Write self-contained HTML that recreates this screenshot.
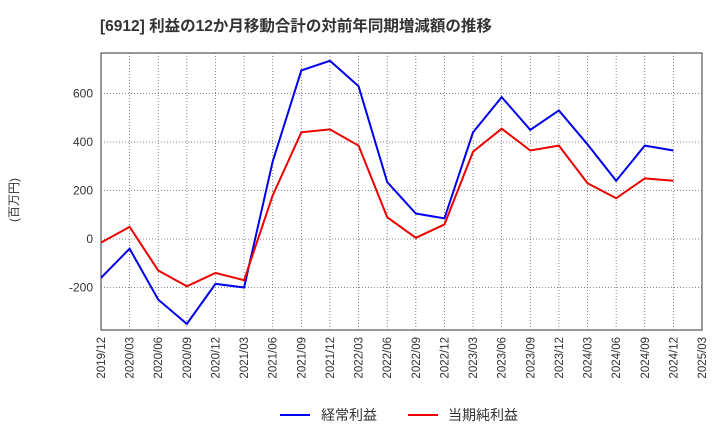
<!DOCTYPE html>
<html><head><meta charset="utf-8"><style>
body{margin:0;background:#fff;font-family:"Liberation Sans","Noto Sans CJK JP",sans-serif;}
</style></head><body>
<svg width="720" height="440" xmlns="http://www.w3.org/2000/svg" font-family="Liberation Sans, Noto Sans CJK JP, sans-serif">
<text x="100" y="31" font-size="15.5" font-weight="bold" fill="#333">[6912]  利益の12か月移動合計の対前年同期増減額の推移</text>
<text x="18" y="200" font-size="12" fill="#333" transform="rotate(-90 18 200)" text-anchor="middle">(百万円)</text>
<rect x="101" y="53" width="601" height="277" fill="none" stroke="#333" stroke-width="1"/>
<g id="grid"></g>
<g id="yt"></g>
<g id="xt"></g>
<g id="series"></g>
<g>
<line x1="280" y1="415" x2="310" y2="415" stroke="#0000ee" stroke-width="2"/>
<text x="321" y="420" font-size="14" fill="#333">経常利益</text>
<line x1="408" y1="415" x2="438" y2="415" stroke="#ee0000" stroke-width="2"/>
<text x="448" y="420" font-size="14" fill="#333">当期純利益</text>
</g>
</svg>
<script>
const categories=["2019/12","2020/03","2020/06","2020/09","2020/12","2021/03","2021/06","2021/09","2021/12","2022/03","2022/06","2022/09","2022/12","2023/03","2023/06","2023/09","2023/12","2024/03","2024/06","2024/09","2024/12","2025/03"];
const ordinary=[-160,-40,-250,-350,-185,-200,320,695,735,630,235,105,85,440,585,450,530,390,240,385,365];
const net=[-15,50,-130,-195,-140,-170,180,440,452,385,90,5,60,360,455,365,385,230,168,250,240];
const yTicks=[-200,0,200,400,600];
const ns="http://www.w3.org/2000/svg";
const x0=101,x1=702,yTop=53,yBot=330;
const xs=i=>x0+i*(x1-x0)/(categories.length-1);
const ys=v=>239-v*(48.5/200);
function mk(t,a,p){const e=document.createElementNS(ns,t);for(const k in a)e.setAttribute(k,a[k]);p.appendChild(e);return e;}
const g=document.getElementById('grid'),yt=document.getElementById('yt'),xt=document.getElementById('xt'),se=document.getElementById('series');
categories.forEach((c,i)=>{
 if(i>0&&i<categories.length-1){const l=mk('line',{x1:xs(i),x2:xs(i),y1:yTop,y2:yBot,stroke:'#666','stroke-dasharray':'1,2','stroke-width':0.8},g);
 }
 const t=mk('text',{x:0,y:0,'font-size':11.5,fill:'#333','text-anchor':'end',transform:`translate(${xs(i)+4},${yBot+7}) rotate(-90)`},xt);
 t.textContent=c;
});
yTicks.forEach(v=>{
 const l=mk('line',{x1:x0,x2:x1,y1:ys(v),y2:ys(v),stroke:'#666','stroke-dasharray':'1,2','stroke-width':0.8},g);
 
 const t=mk('text',{x:x0-8,y:ys(v)+4,'font-size':12,fill:'#333','text-anchor':'end'},yt);
 t.textContent=v;
});
function line(d,col,name){const p=mk('polyline',{points:d.map((v,i)=>xs(i)+','+ys(v)).join(' '),fill:'none',stroke:col,'stroke-width':2},se);
 }
line(ordinary,'#0000ee','ordinary-profit-line');
line(net,'#ee0000','net-profit-line');
</script>
</body></html>
